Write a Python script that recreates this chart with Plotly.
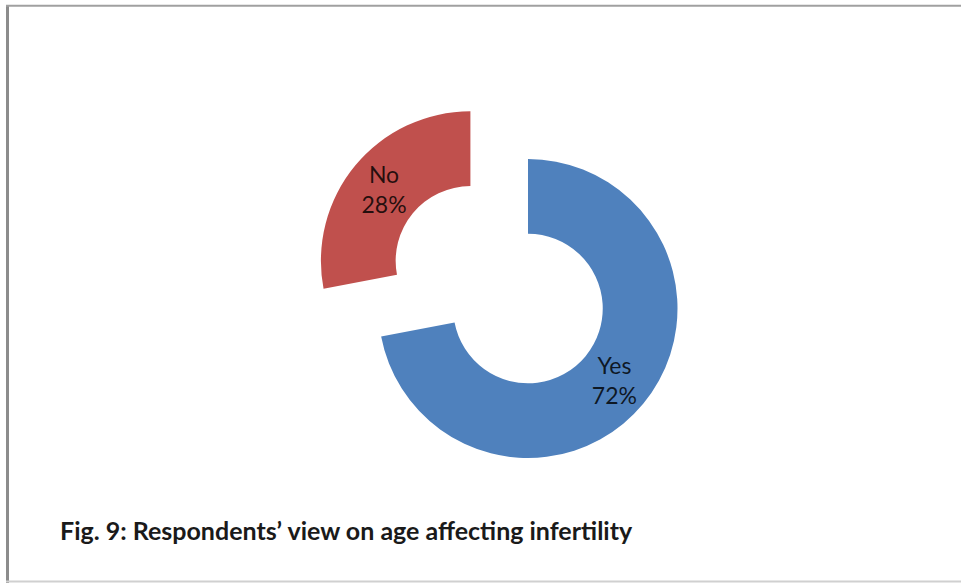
import plotly.graph_objects as go

labels = ["Yes", "No"]
values = [72, 28]
colors = ["#4F81BD", "#C0504D"]
pulls = [0, 0.5]
caption = "Fig. 9: Respondents’ view on age affecting infertility"

W, H = 961, 583
cx, cy, R = 528, 308.5, 149.5
half = 3 * R / 2

fig = go.Figure(go.Pie(
    labels=labels,
    values=values,
    marker=dict(colors=colors, line=dict(width=0)),
    pull=pulls,
    hole=0.5,
    sort=False,
    direction="clockwise",
    rotation=0,
    textinfo="label+percent",
    texttemplate="%{label}<br>%{percent:.0%}",
    textposition="inside",
    insidetextorientation="horizontal",
    textfont=dict(family="Lato", size=23, color="rgba(0,0,0,0.82)"),
    domain=dict(x=[(cx - half) / W, (cx + half) / W],
                y=[1 - (cy + half) / H, 1 - (cy - half) / H]),
    showlegend=False,
    hoverinfo="label+percent",
))

fig.update_layout(
    width=W, height=H,
    margin=dict(l=0, r=0, t=0, b=0),
    paper_bgcolor="white",
    plot_bgcolor="white",
    shapes=[
        dict(type="line", xref="paper", yref="paper",
             x0=7.5 / W, x1=7.5 / W, y0=0, y1=1 - 5 / H,
             line=dict(color="#8c8c8c", width=3)),
        dict(type="line", xref="paper", yref="paper",
             x0=6 / W, x1=1, y0=1 - 5.8 / H, y1=1 - 5.8 / H,
             line=dict(color="#a0a0a0", width=2)),
        dict(type="line", xref="paper", yref="paper",
             x0=6 / W, x1=1, y0=1 - 581.5 / H, y1=1 - 581.5 / H,
             line=dict(color="#d0d0d0", width=2)),
    ],
    annotations=[
        dict(text="<b>" + caption + "</b>", xref="paper", yref="paper",
             x=58 / W, y=1 - 530 / H, xanchor="left", yanchor="middle",
             showarrow=False,
             font=dict(family="Lato", size=25, color="#1a1a1a")),
    ],
)

fig.write_html("out.html")
